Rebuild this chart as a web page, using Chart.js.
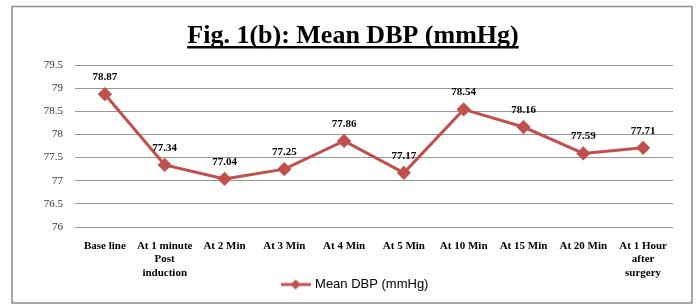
<!DOCTYPE html>
<html>
<head>
<meta charset="utf-8">
<script src="https://cdn.jsdelivr.net/npm/chart.js@4/dist/chart.umd.min.js"></script>
<style>
  html, body { margin: 0; padding: 0; background: #fff; }
  #wrap { width: 697px; height: 307px; position: relative; }
</style>
</head>
<body>
<div id="wrap"><canvas id="dbp-chart" width="697" height="307"></canvas></div>
<script>
// Chart data
var categories = [
    'Base line',
    ['At 1 minute', 'Post', 'induction'],
    'At 2 Min',
    'At 3 Min',
    'At 4 Min',
    'At 5 Min',
    'At 10 Min',
    'At 15 Min',
    'At 20 Min',
    ['At 1 Hour', 'after', 'surgery']
];
var meanDbp = [78.87, 77.34, 77.04, 77.25, 77.86, 77.17, 78.54, 78.16, 77.59, 77.71];
var yTicks = [76, 76.5, 77, 77.5, 78, 78.5, 79, 79.5];

var titleText = 'Fig. 1(b): Mean DBP (mmHg)';
var seriesName = 'Mean DBP (mmHg)';
var lineColor = '#C0504D';
var serif = '"Liberation Serif", "Times New Roman", serif';

// Legend marker: short line with a diamond in the middle
function legendMarker() {
    var c = document.createElement('canvas');
    c.width = 30; c.height = 12;
    var g = c.getContext('2d');
    g.strokeStyle = lineColor;
    g.lineWidth = 3;
    g.beginPath(); g.moveTo(0, 6); g.lineTo(30, 6); g.stroke();
    g.fillStyle = lineColor;
    g.beginPath();
    g.moveTo(15, 1); g.lineTo(20, 6); g.lineTo(15, 11); g.lineTo(10, 6);
    g.closePath(); g.fill();
    return c;
}
var marker = legendMarker();

// Frame, title and underline
var framePlugin = {
    id: 'frame',
    beforeDraw: function(chart) {
        var ctx = chart.ctx;
        ctx.save();
        ctx.fillStyle = '#fff';
        ctx.fillRect(0, 0, chart.width, chart.height);
        ctx.strokeStyle = '#8a8a8a';
        ctx.lineWidth = 1.5;
        ctx.strokeRect(12, 6.5, 680, 296.5);
        ctx.restore();
    },
    afterDraw: function(chart) {
        var ctx = chart.ctx;
        ctx.save();
        ctx.font = 'bold 26px ' + serif;
        ctx.fillStyle = '#000';
        ctx.textAlign = 'center';
        ctx.textBaseline = 'alphabetic';
        var cx = 353, base = 43;
        ctx.fillText(titleText, cx, base);
        var w = ctx.measureText(titleText).width;
        ctx.fillRect(cx - w / 2, base + 3, w, 2.5);
        ctx.restore();
    }
};

// Value labels above each point
var valueLabels = {
    id: 'valueLabels',
    afterDatasetsDraw: function(chart) {
        var ctx = chart.ctx;
        var meta = chart.getDatasetMeta(0);
        ctx.save();
        ctx.font = 'bold 11px ' + serif;
        ctx.fillStyle = '#000';
        ctx.textAlign = 'center';
        ctx.textBaseline = 'middle';
        meta.data.forEach(function(pt, i) {
            ctx.fillText(meanDbp[i].toFixed(2), pt.x, pt.y - 17);
        });
        ctx.restore();
    }
};

var ctx = document.getElementById('dbp-chart').getContext('2d');
new Chart(ctx, {
    type: 'line',
    data: {
        labels: categories,
        datasets: [{
            label: seriesName,
            data: meanDbp,
            borderColor: lineColor,
            backgroundColor: lineColor,
            borderWidth: 3,
            pointStyle: 'rectRot',
            pointRadius: 5,
            pointHoverRadius: 5,
            fill: false,
            tension: 0
        }]
    },
    options: {
        responsive: false,
        animation: false,
        layout: { padding: { left: 38, right: 24, top: 65, bottom: 6 } },
        plugins: {
            title: { display: false },
            tooltip: { enabled: false },
            legend: {
                position: 'bottom',
                labels: {
                    usePointStyle: true,
                    pointStyleWidth: 26,
                    padding: 0,
                    color: '#222',
                    font: { family: '"Liberation Sans", Arial, sans-serif', size: 13 },
                    generateLabels: function(chart) {
                        return [{
                            text: seriesName,
                            pointStyle: marker,
                            fillStyle: lineColor,
                            strokeStyle: lineColor,
                            lineWidth: 0,
                            datasetIndex: 0
                        }];
                    }
                }
            }
        },
        scales: {
            x: {
                offset: true,
                grid: { display: false, drawTicks: false, offset: true },
                border: { display: false },
                ticks: {
                    padding: 12,
                    color: '#000',
                    maxRotation: 0,
                    autoSkip: false,
                    font: { family: serif, size: 11, weight: 'bold', lineHeight: 1.25 }
                },
                afterFit: function(scale) { scale.height = 51; }
            },
            y: {
                min: yTicks[0],
                max: yTicks[yTicks.length - 1],
                afterBuildTicks: function(scale) {
                    scale.ticks = yTicks.map(function(v) { return { value: v }; });
                },
                grid: { color: '#979797', lineWidth: 1, drawTicks: false },
                border: { display: false },
                ticks: {
                    padding: 12,
                    color: '#333',
                    font: { family: serif, size: 11 },
                    callback: function(v) { return String(v); }
                },
                afterFit: function(scale) { scale.width = 37; }
            }
        }
    },
    plugins: [framePlugin, valueLabels]
});
</script>
</body>
</html>
